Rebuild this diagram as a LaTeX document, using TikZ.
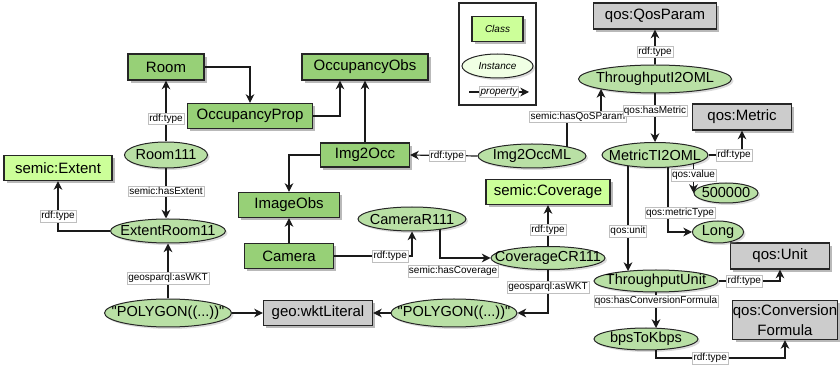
\documentclass[tikz,border=0pt]{standalone}
\usepackage{fontspec}
\setmainfont[Ligatures=TeXOff]{Liberation Sans}
\usetikzlibrary{arrows.meta,shapes.geometric,calc,shadows}
\definecolor{clsdark}{HTML}{97D077}
\definecolor{clslight}{HTML}{CCFF99}
\definecolor{instfill}{HTML}{B9E0A5}
\definecolor{instlight}{HTML}{F0FFE4}
\definecolor{grayfill}{HTML}{CCCCCC}
\definecolor{edgec}{HTML}{1A1A1A}
\tikzset{
  sz/.style 2 args={minimum width=#1*0.75pt, minimum height=#2*0.75pt},
  shad/.style={drop shadow={shadow xshift=2.2pt, shadow yshift=-2.2pt, fill=black!50, opacity=0.55}},
  lshad/.style={drop shadow={shadow xshift=1.5pt, shadow yshift=-1.5pt, fill=black!40, opacity=0.35}},
  boxbase/.style={rectangle, draw=black!85, line width=0.9pt, inner sep=0pt, align=center,
    font=\fontsize{11.25}{15}\selectfont, shad},
  clsd/.style={boxbase, fill=clsdark},
  clsl/.style={boxbase, fill=clslight},
  extc/.style={boxbase, fill=grayfill},
  instn/.style={ellipse, draw=black!85, line width=0.75pt, fill=instfill, inner xsep=-15pt, inner ysep=-6pt,
    font=\fontsize{10.9}{12.5}\selectfont, lshad},
  lbl/.style={fill=white, draw=black!25, line width=0.3pt, inner sep=0.8pt,
    font=\fontsize{7.5}{8.5}\selectfont},
  arr/.style={draw=edgec, line width=0.9pt, -{Stealth[length=6.5pt,width=6.5pt,inset=2pt]}},
}
\begin{document}
\begin{tikzpicture}[x=0.75pt,y=-0.75pt]
\useasboundingbox (0,0) rectangle (840,370);

% legend
\node[draw=black!85, line width=0.8pt, fill=white, sz={77}{102}] (legend) at (497.5,54) {};
\node[clsl, sz={51}{25}, font=\fontsize{7.5}{9}\selectfont\itshape] (lgclass) at (497.5,29) {Class};
\node[instn, fill=instlight, sz={71}{24}, font=\fontsize{7.5}{9}\selectfont\itshape] (lginst) at (497.5,66) {Instance};
\coordinate (pa) at (469,92);
\coordinate (pb) at (529,92);

% classes (dark green)
\node[clsd, sz={76}{26}] (room) at (166,67) {Room};
\node[clsd, sz={125}{25}] (occprop) at (250,116) {OccupancyProp};
\node[clsd, sz={126}{26}] (occobs) at (365,67) {OccupancyObs};
\node[clsd, sz={89}{24}] (img2occ) at (365,155) {Img2Occ};
\node[clsd, sz={101}{25}] (imageobs) at (289,205) {ImageObs};
\node[clsd, sz={89}{25}] (camera) at (289,256) {Camera};

% classes (light green)
\node[clsl, sz={108}{25}] (extent) at (58,168) {semic:Extent};
\node[clsl, sz={124}{25}] (coverage) at (548,192) {semic:Coverage};

% external classes (gray)
\node[extc, sz={123}{26}] (qosparam) at (655,16) {qos:QosParam};
\node[extc, sz={99}{26}] (metric) at (742,117) {qos:Metric};
\node[extc, sz={99}{26}] (unit) at (780,256) {qos:Unit};
\node[extc, sz={104}{39}] (convf) at (785,320) {qos:Conversion\\Formula};
\node[extc, sz={109}{25}] (wkt) at (318,313) {geo:wktLiteral};

% instances
\node[instn, sz={83}{26}] (room111) at (166,155) {Room111};
\node[instn, sz={115}{24}] (extentroom) at (168,231) {ExtentRoom11};
\node[instn, sz={127}{28}] (poly1) at (168,313) {"POLYGON((...))"};
\node[instn, sz={126}{28}] (poly2) at (454,313) {"POLYGON((...))"};
\node[instn, sz={108}{24}] (camerar) at (412,219) {CameraR111};
\node[instn, sz={114}{23}] (coveragecr) at (548,258) {CoverageCR111};
\node[instn, sz={108}{24}] (img2occml) at (532,156) {Img2OccML};
\node[instn, sz={153}{28}] (through) at (655,79) {ThroughputI2OML};
\node[instn, sz={106}{25}] (metricti) at (655,155) {MetricTI2OML};
\node[instn, sz={64}{20}] (v500) at (726,193) {500000};
\node[instn, sz={51}{22}] (long) at (718,232) {Long};
\node[instn, sz={124}{22}] (tunit) at (656,281) {ThroughputUnit};
\node[instn, sz={104}{22}] (bps) at (646,339) {bpsToKbps};

% legend property
\draw[arr] (pa) -- node[lbl, font=\fontsize{7.5}{9}\selectfont\itshape] {property} (pb);

% class hierarchy edges
\draw[arr] (room.east) -| (occprop.north);
\draw[arr] (occprop.east) -| ($(occobs.south)+(-25,0)$);
\draw[arr] (img2occ.north) -- (img2occ.north |- occobs.south);
\draw[arr] (img2occ.west) -| (imageobs.north);
\draw[arr] (camera.north) -- (imageobs.south);

% property edges
\draw[arr] (room111.north) -- node[lbl,pos=0.37]{rdf:type} (room.south);
\draw[arr] (room111.south) -- node[lbl,pos=0.45]{semic:hasExtent} (room111.south |- extentroom.north);
\draw[arr] (extentroom.west) -| node[lbl,pos=0.65]{rdf:type} (extent.south);
\draw[arr] (poly1.north) -- node[lbl,pos=0.37]{geosparql:asWKT} (extentroom.south);
\draw[arr] (poly1.east) -- (wkt.west);
\draw[arr] (poly2.west) -- (wkt.east);
\draw[arr] (coveragecr.south) |- node[lbl,pos=0.2]{geosparql:asWKT} (poly2.east);
\draw[arr] (coveragecr.north) -- node[lbl,pos=0.4]{rdf:type} (coverage.south);
\draw[arr] (camera.east) -| node[lbl,pos=0.36]{rdf:type} (camerar.south);
\draw[arr] ($(camerar.center)+(28,10)$) |- node[lbl,pos=0.63,yshift=-9.75pt]{semic:hasCoverage} (coveragecr.west);
\draw[arr] (img2occml.west) -- node[lbl,pos=0.45]{rdf:type} (img2occ.east);
\draw[arr] ($(img2occml.center)+(35,-9)$) |- node[lbl,pos=0.66]{semic:hasQoSParam} ($(through.center)+(-54,38)$) -- ($(through.center)+(-54,10)$);
\draw[arr] (through.north) -- node[lbl,pos=0.36]{rdf:type} (qosparam.south);
\draw[arr] (through.south) -- node[lbl,pos=0.36]{qos:hasMetric} (metricti.north);
\draw[arr] (metricti.east) -| node[lbl,pos=0.38]{rdf:type} (metric.south);
\draw[arr] ($(metricti.center -| v500.west)+(0,8)$) -- node[lbl,pos=0.4]{qos:value} (v500.west);
\draw[arr] ($(metricti.center)+(13,12)$) |- node[lbl,pos=0.35,xshift=9pt]{qos:metricType} (long.west);
\draw[arr] ($(metricti.center)+(-27,11)$) -- node[lbl,pos=0.62]{qos:unit} ($(tunit.center)+(-28,-10)$);
\draw[arr] (tunit.east) -| node[lbl,pos=0.21]{rdf:type} (unit.south);
\draw[arr] (tunit.south) -- node[lbl,pos=0.25]{qos:hasConversionFormula} ($(bps.center)+(10,-11)$);
\draw[arr] ($(bps.center)+(10,11)$) -- ++(0,8) -| node[lbl,pos=0.21]{rdf:type} (convf.south);
\end{tikzpicture}
\end{document}
